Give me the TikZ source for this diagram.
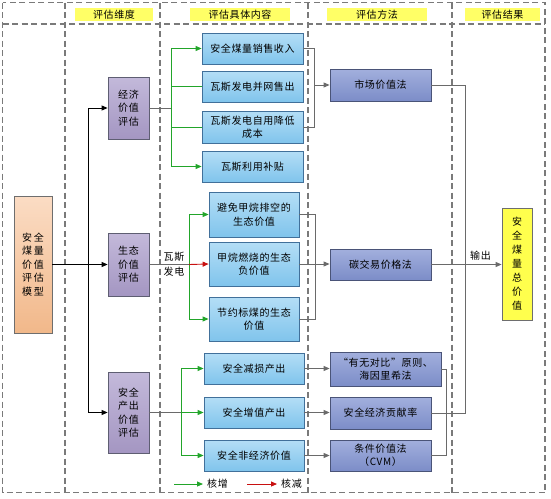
\documentclass[tikz,border=0pt]{standalone}
\usepackage{fontspec}
\setmainfont{Noto Sans CJK SC}[LetterSpace=6]
\usetikzlibrary{arrows.meta,shadows}
\definecolor{sepgray}{HTML}{7A7A7A}
\definecolor{conngray}{HTML}{6A6A6A}
\definecolor{gline}{HTML}{22A52A}
\definecolor{rline}{HTML}{C81010}
\definecolor{hdryellow}{HTML}{FFFF66}
\tikzset{
  sep/.style={draw=sepgray, line width=1.1pt, dash pattern=on 6pt off 3.5pt},
  boxbase/.style={rectangle, inner sep=1pt, align=center, line width=0.8pt,
     drop shadow={shadow xshift=1.2pt, shadow yshift=-1.2pt, opacity=0.25}},
  bluebox/.style={boxbase, draw=HTMLdark, top color=bluetop, bottom color=bluebot},
  purplebox/.style={boxbase, draw=purpdark, top color=purptop, bottom color=purpbot},
  methodbox/.style={boxbase, draw=methdark, top color=methtop, bottom color=methbot},
  modelbox/.style={boxbase, draw=modeldark, top color=modeltop, bottom color=modelbot},
  resultbox/.style={boxbase, draw=modeldark, fill=resyellow},
  hdr/.style={rectangle, fill=hdryellow, inner sep=0pt, minimum height=13pt},
  conn/.style={draw=conngray, line width=0.9pt},
  blk/.style={draw=black, line width=0.9pt},
  tip/.style={-{Triangle[length=6pt,width=5pt]}},
  gl/.style={draw=gline, line width=0.9pt},
  rl/.style={draw=rline, line width=0.9pt},
  plain/.style={inner sep=0pt, align=center}
}
\definecolor{HTMLdark}{HTML}{41709A}
\definecolor{bluetop}{HTML}{B4DEF6}
\definecolor{bluebot}{HTML}{80C4EC}
\definecolor{purpdark}{HTML}{5E5E72}
\definecolor{purptop}{HTML}{C3B9DA}
\definecolor{purpbot}{HTML}{A496C2}
\definecolor{methdark}{HTML}{4A5478}
\definecolor{methtop}{HTML}{A2AFDD}
\definecolor{methbot}{HTML}{7C8DC8}
\definecolor{modeldark}{HTML}{6E6E6E}
\definecolor{modeltop}{HTML}{FBDCC4}
\definecolor{modelbot}{HTML}{F1B88A}
\definecolor{resyellow}{HTML}{FFFF4D}
\begin{document}
\begin{tikzpicture}[x=1pt,y=-1pt,font=\fontsize{10}{13.5}\selectfont]
\useasboundingbox (0,0) rectangle (551,498);
% dashed frame
\draw[sep] (2.5,2.5) rectangle (545,492.5);
\draw[sep] (2.5,24) -- (545,24);
\foreach \xx in {65,160,308,452} \draw[sep] (\xx,2.5) -- (\xx,492.5);
% headers
\node[hdr, minimum width=78pt] (h1) at (114,14.5) {评估维度};
\node[hdr, minimum width=100pt] (h2) at (240,14.5) {评估具体内容};
\node[hdr, minimum width=100pt] (h3) at (377,14.5) {评估方法};
\node[hdr, minimum width=75pt] (h4) at (502.5,14.5) {评估结果};
% model
\node[modelbox, minimum width=38pt, minimum height=137pt] (model) at (33,264.5) {安\,全\\煤\,量\\价\,值\\评\,估\\模\,型};
% dimensions
\node[purplebox, minimum width=41pt, minimum height=62pt] (econ) at (128.5,108) {经济\\价值\\评估};
\node[purplebox, minimum width=41pt, minimum height=63pt] (ecol) at (128.5,264.5) {生态\\价值\\评估};
\node[purplebox, minimum width=41pt, minimum height=81pt] (safe) at (128.5,412.5) {安全\\产出\\价值\\评估};
% contents
\node[bluebox, minimum width=101pt, minimum height=31pt] (e1) at (252.5,48.5) {安全煤量销售收入};
\node[bluebox, minimum width=101pt, minimum height=31pt] (e2) at (252.5,86.5) {瓦斯发电并网售出};
\node[bluebox, minimum width=101pt, minimum height=32pt] (e3) at (252.5,127) {瓦斯发电自用降低\\成本};
\node[bluebox, minimum width=101pt, minimum height=31pt] (e4) at (252.5,166.5) {瓦斯利用补贴};
\node[bluebox, minimum width=90pt, minimum height=45pt] (g1) at (254,214.5) {避免甲烷排空的\\生态价值};
\node[bluebox, minimum width=90pt, minimum height=44pt] (g2) at (254,264) {甲烷燃烧的生态\\负价值};
\node[bluebox, minimum width=90pt, minimum height=44pt] (g3) at (254,319) {节约标煤的生态\\价值};
\node[bluebox, minimum width=100pt, minimum height=31pt] (s1) at (254,368.5) {安全减损产出};
\node[bluebox, minimum width=100pt, minimum height=31pt] (s2) at (254,412.5) {安全增值产出};
\node[bluebox, minimum width=100pt, minimum height=31pt] (s3) at (254,455.5) {安全非经济价值};
% methods
\node[methodbox, minimum width=101pt, minimum height=32pt] (m1) at (380.5,85) {市场价值法};
\node[methodbox, minimum width=101pt, minimum height=31pt] (m2) at (380.5,264.5) {碳交易价格法};
\node[methodbox, minimum width=111pt, minimum height=34pt] (m3) at (385.5,369) {“有无对比”原则、\\海因里希法};
\node[methodbox, minimum width=101pt, minimum height=32pt] (m4) at (380.5,413) {安全经济贡献率};
\node[methodbox, minimum width=101pt, minimum height=31pt] (m5) at (380.5,455.5) {条件价值法\\（CVM）};
% result
\node[resultbox, minimum width=30pt, minimum height=112pt, font=\fontsize{10}{14}\selectfont] (res) at (517,264) {安\\全\\煤\\量\\总\\价\\值};
% trunk
\coordinate (t1) at (88,108);
\coordinate (t2) at (88,412.5);
\draw[blk,tip] (model.east) -- (ecol.west);
\draw[blk] (t1) -- (t2);
\draw[blk,tip] (t1) -- (econ.west);
\draw[blk,tip] (t2) -- (safe.west);
% economic branch
\coordinate (eb) at (171,108);
\draw[conn] (econ.east) -- (eb);
\draw[gl] (171,48.5) -- (171,166.5);
\draw[gl,tip] (171,48.5) -- (e1.west);
\draw[gl] (171,86.5) -- (e2.west);
\draw[gl] (171,127) -- (e3.west);
\draw[gl,tip] (171,166.5) -- (e4.west);
% ecological branch
\coordinate (gb) at (189,264.5);
\draw[conn] (ecol.east) -- (gb);
\node[plain, fill=white, fill opacity=0, text opacity=1, font=\fontsize{10}{15}\selectfont] (gas) at (174,264.5) {瓦斯\\发电};
\draw[gl] (189,214.5) -- (189,319);
\draw[gl,tip] (189,214.5) -- (g1.west);
\draw[rl,tip] (gb) -- (g2.west);
\draw[gl,tip] (189,319) -- (g3.west);
% safety branch
\coordinate (sb) at (181,412.5);
\draw[conn] (safe.east) -- (sb);
\draw[gl] (181,368.5) -- (181,455.5);
\draw[gl,tip] (181,368.5) -- (s1.west);
\draw[gl,tip] (sb) -- (s2.west);
\draw[gl,tip] (181,455.5) -- (s3.west);
% to methods
\draw[conn] (e1.east) -- (314,48.5) -- (314,127) -- (e3.east);
\draw[conn,tip] (314,85) -- (m1.west);
\draw[conn] (g1.east) -- (315,214.5) -- (315,319) -- (g3.east);
\draw[conn,tip] (g2.east) -- (m2.west |- g2.east);
\draw[conn,tip] (s1.east) -- (m3.west |- s1.east);
\draw[conn,tip] (s2.east) -- (m4.west |- s2.east);
\draw[conn,tip] (s3.east) -- (m5.west);
% methods to result
\draw[conn] (m1.east) -- (465,85) -- (465,413) -- (m4.east);
\draw[conn] (m3.east) -- (446,369) -- (446,455.5) -- (m5.east);
\draw[conn,tip] (m2.east) -- (res.west |- m2.east) node[pos=0.7, above=0pt, text=black] (out) {输出};
% legend
\coordinate (lg1) at (174,484);
\coordinate (lg2) at (203,484);
\coordinate (lr1) at (247,484);
\coordinate (lr2) at (277,484);
\draw[gl,tip] (lg1) -- (lg2);
\draw[rl,tip] (lr1) -- (lr2);
\node[plain, anchor=west] (lgt) at (207,484) {核增};
\node[plain, anchor=west] (lrt) at (281,484) {核减};
\end{tikzpicture}
\end{document}
